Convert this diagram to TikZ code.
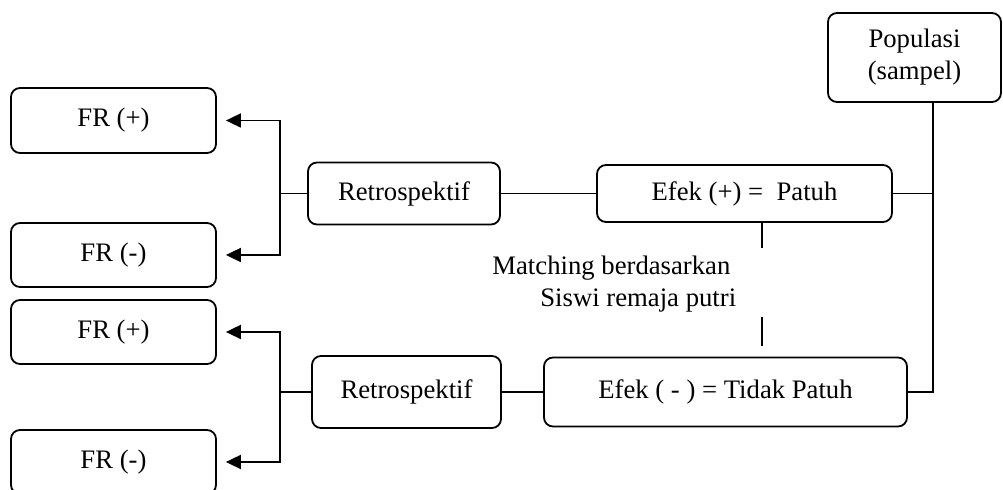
\documentclass[tikz,border=0pt]{standalone}
\usepackage{fontspec}
\setmainfont{Liberation Serif}
\usetikzlibrary{arrows.meta}
\begin{document}
\begin{tikzpicture}[x=0.5pt,y=-0.5pt,
  box/.style={draw, line width=0.9pt, rounded corners=4.5pt, inner sep=0pt, align=center, font=\fontsize{13.35}{16}\selectfont},
  conn/.style={line width=0.9pt},
  arr/.style={conn, -{Triangle[length=7.5pt,width=7pt]}, shorten >=4.5pt},
  lbl/.style={inner sep=0pt, align=left, font=\fontsize{13.35}{16}\selectfont}]
\useasboundingbox (0,0) rectangle (1003,490);
% left boxes
\node[box, minimum width=102.5pt, minimum height=32.5pt] (frp1) at (113.5,120.5) {FR (+)};
\node[box, minimum width=102.5pt, minimum height=32pt] (frm1) at (113.5,255) {FR (-)};
\node[box, minimum width=102.5pt, minimum height=32pt] (frp2) at (113.5,332) {FR (+)};
\node[box, minimum width=102.5pt, minimum height=32pt] (frm2) at (113.5,462) {FR (-)};
% retrospektif
\node[box, minimum width=96pt, minimum height=31pt] (ret1) at (404,193.5) {Retrospektif};
\node[box, minimum width=94.5pt, minimum height=36pt] (ret2) at (406.5,392) {Retrospektif};
% efek
\node[box, minimum width=147.5pt, minimum height=28.5pt] (efp) at (744.5,193.5) {Efek (+) =\ \ Patuh};
\node[box, minimum width=181.5pt, minimum height=34.5pt] (efm) at (725.5,392) {Efek ( - ) = Tidak Patuh};
% populasi
\node[box, minimum width=86.5pt, minimum height=44.5pt] (pop) at (914.5,57.5) {Populasi\\(sampel)};
% matching text
\node[lbl, anchor=west] (match) at (492,284) {Matching berdasarkan\\\hspace*{24pt}Siswi remaja putri};
% coordinates
\coordinate (tr) at (933,0);
\coordinate (b1) at (280,193.5);
\coordinate (b2) at (280,392);
\coordinate (m1) at (762,248);
\coordinate (m2) at (762,317);
\coordinate (m3) at (762,346);
% trunk
\draw[conn] (pop.south -| tr) -- (tr |- efm.east) -- (efm.east);
\draw[conn] (efp.east) -- (efp.east -| tr);
% chains
\draw[conn] (efp.west) -- (ret1.east);
\draw[conn] (efm.west) -- (ret2.east);
\draw[conn] (ret1.west) -- (b1);
\draw[conn] (ret2.west) -- (b2);
\draw[arr] (b1) |- (frp1.east);
\draw[arr] (b1) |- (frm1.east);
\draw[arr] (b2) |- (frp2.east);
\draw[arr] (b2) |- (frm2.east);
% matching marks
\draw[conn] (efp.south -| m1) -- (m1);
\draw[conn] (m2) -- (m3);
\end{tikzpicture}
\end{document}
